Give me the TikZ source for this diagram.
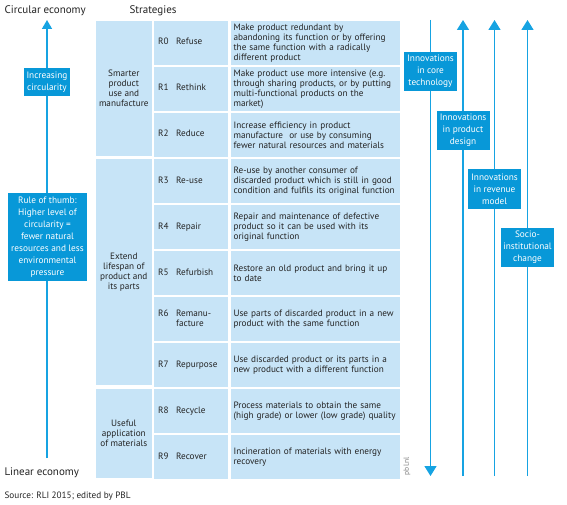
\documentclass[tikz,border=0pt]{standalone}
\usepackage{fontspec}
\setmainfont{PT Sans}
\usetikzlibrary{arrows.meta, positioning, backgrounds}
\definecolor{cellblue}{RGB}{199,228,247}
\definecolor{boxblue}{RGB}{8,152,216}
\definecolor{lineblue}{RGB}{22,163,226}
\definecolor{txtgray}{RGB}{35,35,35}
% R number and strategy name side by side
\newcommand{\rlab}[2]{\begin{tabular}{@{}p{18pt}@{}l@{}}#1 & \begin{tabular}[t]{@{}l@{}}#2\end{tabular}\end{tabular}}

\begin{document}
\begin{tikzpicture}[x=1pt, y=-1pt, font=\fontsize{9.2}{10}\selectfont, text=txtgray,
  cat/.style={fill=cellblue, minimum width=56pt, inner sep=1pt, align=center, anchor=north east},
  rcell/.style={fill=cellblue, minimum height=43.6pt, inner xsep=4pt, inner ysep=1pt, text width=66pt, align=left},
  desc/.style={fill=cellblue, minimum height=43.6pt, inner xsep=3pt, inner ysep=1pt, text width=163pt, align=left},
  dark/.style={fill=boxblue, text=white, align=center, inner sep=1pt, font=\fontsize{9.3}{12}\selectfont},
  up/.style={draw=lineblue, line width=1.5pt, -{Triangle[width=12pt, length=10pt]}},
  head/.style={font=\fontsize{11}{12}\selectfont, anchor=west}]
  \useasboundingbox (0,0) rectangle (567,505);

  % headers and footer
  \node[head] (circtxt) at (1,11) {Circular economy};
  \node[head, anchor=center] (strat) at (153,11) {Strategies};
  \node[head] (lintxt) at (1,473) {Linear economy};
  \node[anchor=west] (src) at (1,496) {Source: RLI 2015; edited by PBL};

  % strategies column
  \node[rcell, anchor=north west] (r0) at (154,21) {\rlab{R0}{Refuse}};
  \node[rcell, below=2pt of r0] (r1) {\rlab{R1}{Rethink}};
  \node[rcell, below=2pt of r1] (r2) {\rlab{R2}{Reduce}};
  \node[rcell, below=2pt of r2] (r3) {\rlab{R3}{Re-use}};
  \node[rcell, below=2pt of r3] (r4) {\rlab{R4}{Repair}};
  \node[rcell, below=2pt of r4] (r5) {\rlab{R5}{Refurbish}};
  \node[rcell, below=2pt of r5] (r6) {\rlab{R6}{Remanu-\\facture}};
  \node[rcell, below=2pt of r6] (r7) {\rlab{R7}{Repurpose}};
  \node[rcell, below=2pt of r7] (r8) {\rlab{R8}{Recycle}};
  \node[rcell, below=2pt of r8] (r9) {\rlab{R9}{Recover}};

  % groups
  \node[cat, minimum height=134.8pt] (smart) at ([xshift=-2pt]r0.north west) {Smarter\\product\\use and\\manufacture};
  \node[cat, minimum height=226pt] (extend) at ([xshift=-2pt]r3.north west) {Extend\\lifespan of\\product and\\its parts};
  \node[cat, minimum height=89.2pt] (useful) at ([xshift=-2pt]r8.north west) {Useful\\application\\of materials};

  % descriptions
  \node[desc, right=2pt of r0] (d0) {Make product redundant by\\abandoning its function or by offering\\the same function with a radically\\different product};
  \node[desc, right=2pt of r1] (d1) {Make product use more intensive (e.g.\\through sharing products, or by putting\\multi-functional products on the\\market)};
  \node[desc, right=2pt of r2] (d2) {Increase efficiency in product\\manufacture\ \ or use by consuming\\fewer natural resources and materials};
  \node[desc, right=2pt of r3] (d3) {Re-use by another consumer of\\discarded product which is still in good\\condition and fulfils its original function};
  \node[desc, right=2pt of r4] (d4) {Repair and maintenance of defective\\product so it can be used with its\\original function};
  \node[desc, right=2pt of r5] (d5) {Restore an old product and bring it up\\to date};
  \node[desc, right=2pt of r6] (d6) {Use parts of discarded product in a new\\product with the same function};
  \node[desc, right=2pt of r7] (d7) {Use discarded product or its parts in a\\new product with a different function};
  \node[desc, right=2pt of r8] (d8) {Process materials to obtain the same\\(high grade) or lower (low grade) quality};
  \node[desc, right=2pt of r9] (d9) {Incineration of materials with energy\\recovery};
  \node[rotate=90, text=gray, font=\fontsize{7.5}{8}\selectfont] (pbl) at (407,466) {pbl.nl};

  % boxes on the arrows
  \node[dark, minimum width=46pt, minimum height=28pt] (incr) at (47,82) {Increasing\\circularity};
  \node[dark, minimum width=79pt, minimum height=88pt] (rule) at (47.5,237) {Rule of thumb:\\Higher level of\\circularity =\\fewer natural\\resources and less\\environmental\\pressure};
  \node[dark, minimum width=53pt, minimum height=39pt] (core) at (430.5,71.5) {Innovations\\in core\\technology};
  \node[dark, minimum width=53pt, minimum height=39pt] (design) at (463,130.5) {Innovations\\in product\\design};
  \node[dark, minimum width=53pt, minimum height=39pt] (revenue) at (494.5,189) {Innovations\\in revenue\\model};
  \node[dark, minimum width=53pt, minimum height=39pt] (socio) at (527.5,247.5) {Socio-\\institutional\\change};

  \coordinate (top) at (0,20);
  \coordinate (bot) at (0,476);
  \coordinate (lbot) at (0,458);

  \begin{scope}[on background layer]
    \draw[up, -{Triangle[width=10pt, length=9pt]}] (incr |- lbot) -- (incr |- top);
    \draw[up] (core |- top) -- (core |- bot);
    \foreach \b in {design,revenue,socio} {\draw[up] (\b |- bot) -- (\b |- top);}
  \end{scope}
\end{tikzpicture}
\end{document}
